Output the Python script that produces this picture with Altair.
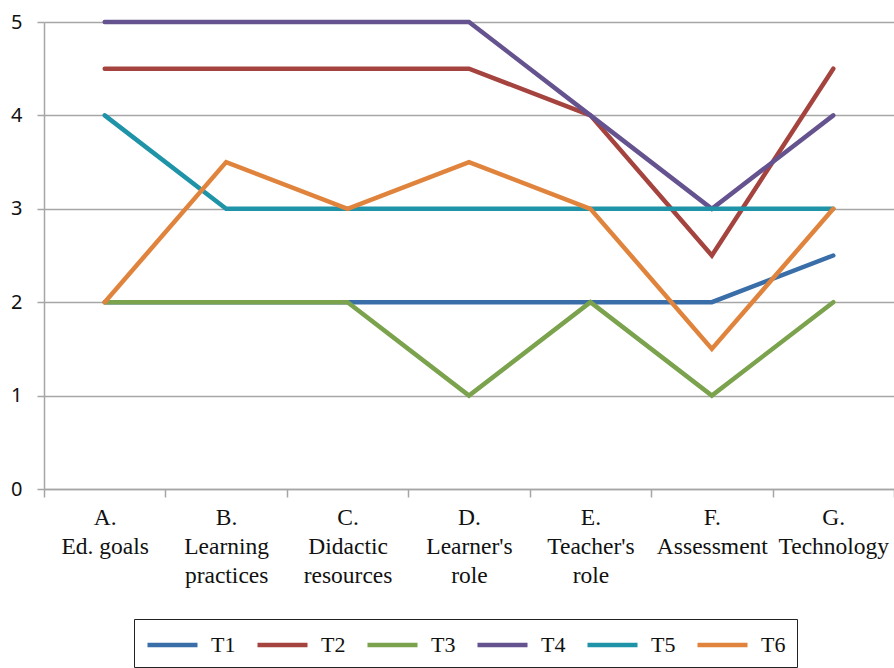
import altair as alt
import pandas as pd

categories = ["A.|Ed. goals", "B.|Learning|practices", "C.|Didactic|resources",
              "D.|Learner's|role", "E.|Teacher's|role", "F.|Assessment", "G.|Technology"]
series = ["T1", "T2", "T3", "T4", "T5", "T6"]
T1 = [2, 2, 2, 2, 2, 2, 2.5]
T2 = [4.5, 4.5, 4.5, 4.5, 4, 2.5, 4.5]
T3 = [2, 2, 2, 1, 2, 1, 2]
T4 = [5, 5, 5, 5, 4, 3, 4]
T5 = [4, 3, 3, 3, 3, 3, 3]
T6 = [2, 3.5, 3, 3.5, 3, 1.5, 3]
colors = ["#3A6EA8", "#A5433F", "#7BA24C", "#65538F", "#1F93A8", "#E0843D"]

rows = []
for name, vals in zip(series, [T1, T2, T3, T4, T5, T6]):
    for c, v in zip(categories, vals):
        rows.append({"cat": c, "series": name, "value": v})
df = pd.DataFrame(rows)

chart = alt.Chart(df).mark_line(strokeWidth=4.5, strokeCap="round", strokeJoin="miter").encode(
    x=alt.X("cat:N", sort=categories, title=None,
            scale=alt.Scale(type="band", paddingInner=0, paddingOuter=0),
            axis=alt.Axis(tickBand="extent", labelAngle=0, labelExpr="split(datum.label, '|')",
                          labelFont="Liberation Serif", labelFontSize=23.5, labelColor="#111",
                          labelLineHeight=29, labelBaseline="top", labelPadding=8,
                          tickSize=8, tickColor="#A6A6A6", domainColor="#A6A6A6",
                          domainWidth=1.5, tickWidth=1.5, grid=False)),
    y=alt.Y("value:Q", title=None, scale=alt.Scale(domain=[0, 5], nice=False),
            axis=alt.Axis(values=[0, 1, 2, 3, 4, 5], labelFont="Noto Sans", labelFontSize=20,
                          labelColor="#111", labelPadding=15, tickSize=7, tickColor="#A6A6A6",
                          domainColor="#A6A6A6", domainWidth=1.5, tickWidth=1.5,
                          gridColor="#A6A6A6", gridWidth=1.5)),
    color=alt.Color("series:N", scale=alt.Scale(domain=series, range=colors),
                    legend=alt.Legend(title=None, orient="none", legendX=90, legendY=597,
                                      direction="horizontal", columns=6,
                                      symbolType="M-1,0H3", symbolStrokeWidth=4.5, symbolSize=625,
                                      labelFont="Liberation Serif", labelFontSize=22,
                                      labelColor="#111", labelOffset=36, columnPadding=12,
                                      padding=11, strokeColor="#222", symbolOpacity=1)),
).properties(
    width=850, height=467,
    padding={"left": 44, "top": 22, "right": 0, "bottom": 179},
    autosize=alt.AutoSizeParams(type="none"),
).configure_view(stroke=None)

chart.save("out.html", embed_options={"renderer": "svg", "actions": False})
